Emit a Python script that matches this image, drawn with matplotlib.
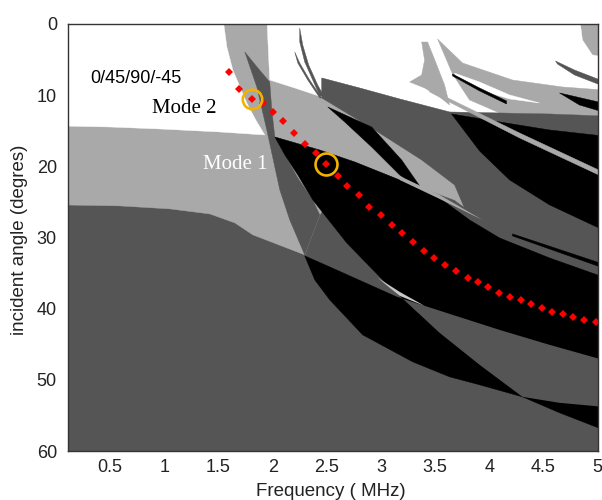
import numpy as np
import matplotlib
matplotlib.use('Agg')
import matplotlib.pyplot as plt
from matplotlib.patches import Polygon

# grey levels of the map
WHITE, LIGHT, DARK, BLACK = '#ffffff', '#a9a9a9', '#555555', '#000000'

# region outlines, (frequency MHz, incident angle deg)
light_upper = [(0.05, -1), (5.05, -1), (5.05, 40), (3.680, 24.72), (3.173, 21.91), (2.758, 19.38),
               (2.435, 26.83), (2.296, 32.44), (1.817, 29.63), (1.651, 27.95), (1.420, 26.69),
               (1.051, 25.98), (0.590, 25.56), (0.05, 25.42)]
white_left = [(0.05, -1), (1.540, -1), (1.577, 3.23), (1.632, 6.46), (1.761, 11.10), (1.844, 13.48),
              (1.927, 15.59), (1.512, 15.17), (0.959, 14.75), (0.497, 14.47), (0.05, 14.33)]
white_top = [(1.946, -1), (4.833, -1), (4.861, 2.25), (4.953, 4.35), (5.05, 4.63), (5.05, 16.29),
             (3.634, 12.36), (3.173, 10.53), (2.804, 8.99), (2.453, 7.58), (2.453, 10.25),
             (2.204, 8.99), (1.973, 7.87)]
light_arc_thin = [(3.376, 2.53), (3.431, 2.53), (3.505, 5.34), (3.588, 8.57), (3.634, 11.38),
                  (3.542, 10.25), (3.403, 8.99), (3.265, 8.15), (3.376, 7.16), (3.403, 5.06)]
light_arc_wide = [(3.523, 2.11), (3.754, 5.48), (4.215, 7.87), (4.677, 8.85), (5.05, 9.27),
                  (5.05, 12.92), (4.557, 12.64), (4.095, 12.50), (3.818, 10.67), (3.661, 7.02)]
white_sliver = [(3.680, 6.90), (3.911, 8.15), (4.188, 9.97), (4.464, 11.10), (4.188, 10.53),
                (3.911, 9.27), (3.700, 7.58)]
black_thread = [(3.661, 7.02), (3.911, 8.99), (4.160, 10.81), (4.160, 11.24), (3.911, 9.41), (3.661, 7.30)]
dark_arc_tr = [(4.612, 5.20), (4.787, 6.46), (5.05, 8.01), (5.05, 8.71), (4.787, 7.16), (4.630, 5.62)]
black_sliver_tr = [(4.649, 9.69), (5.05, 11.10), (5.05, 12.36), (4.833, 11.38)]
sliver_a = [(2.250, 0.56), (2.278, 2.95), (2.333, 5.76), (2.416, 8.57), (2.472, 10.11), (2.435, 10.11),
            (2.370, 7.87), (2.296, 5.34), (2.250, 2.53)]
sliver_b = [(2.204, 3.93), (2.250, 5.48), (2.342, 7.87), (2.453, 10.39), (2.435, 10.39), (2.324, 7.87),
            (2.232, 5.48)]
dark_right = [(2.453, 7.58), (2.804, 8.99), (3.173, 10.53), (3.634, 12.36), (4.095, 12.50),
              (4.557, 12.64), (5.05, 12.92), (5.05, 45.0), (3.911, 30.06), (3.818, 27.53),
              (3.680, 22.61), (3.376, 19.10), (2.942, 14.89), (2.453, 10.39)]
lens_sliver = [(2.509, 11.66), (2.914, 14.47), (3.191, 19.10), (3.403, 23.74), (3.173, 21.21),
               (2.914, 17.28), (2.665, 13.76)]
upper_black = [(3.652, 12.64), (4.095, 13.76), (4.557, 14.89), (5.05, 15.73), (5.05, 28.93),
               (4.557, 25.42), (4.188, 21.91), (3.911, 17.84)]
black_thread_low = [(4.215, 29.49), (5.05, 33.71), (5.05, 34.27), (4.215, 29.78)]
light_thread = [(3.450, 9.13), (4.280, 15.31), (5.05, 20.79), (5.05, 21.49), (4.280, 16.01), (3.450, 9.55)]
dark_band = [(1.743, 3.93), (1.863, 6.18), (1.973, 8.15), (1.992, 12.08), (2.020, 15.87), (2.232, 21.63),
             (2.370, 24.72), (2.435, 26.83), (2.296, 32.44), (2.158, 27.53), (2.066, 23.31),
             (1.946, 14.89), (1.854, 8.85)]
main_black = [(2.020, 15.87), (2.435, 17.70), (2.758, 19.38), (3.173, 21.91), (3.542, 24.44),
              (3.818, 27.53), (4.095, 30.06), (4.557, 32.87), (5.05, 35.53), (5.05, 57.0),
              (4.649, 54.63), (4.307, 52.39), (3.911, 47.89), (3.542, 43.40), (3.293, 39.89),
              (3.016, 35.96), (2.684, 30.76), (2.370, 24.72), (2.232, 21.21), (2.112, 18.40)]
lens_low = [(2.296, 32.58), (2.527, 34.13), (3.145, 38.34), (3.634, 40.73), (4.095, 42.98),
            (4.557, 45.08), (5.05, 47.19), (5.05, 53.79), (4.649, 53.23), (4.307, 52.39),
            (3.911, 50.70), (3.634, 49.58), (3.293, 47.47), (2.831, 43.68), (2.527, 38.76),
            (2.389, 35.96)]
light_cross = [(2.970, 35.67), (3.173, 37.64), (3.403, 39.61), (3.173, 38.20)]
light_edge = [(3.173, 21.35), (3.542, 24.02), (3.938, 27.53), (3.542, 24.58), (3.173, 21.91)]

# red dotted curve
dot_freq = [1.595, 1.687, 1.807, 1.909, 2.001, 2.093, 2.195, 2.296, 2.398, 2.490, 2.601, 2.684,
            2.794, 2.887, 2.997, 3.099, 3.191, 3.293, 3.394, 3.486, 3.588, 3.689, 3.800, 3.892,
            3.985, 4.086, 4.188, 4.289, 4.390, 4.483, 4.584, 4.686, 4.778, 4.879, 4.990]
dot_angle = [6.74, 9.13, 10.53, 11.10, 12.36, 13.62, 15.31, 16.85, 18.12, 19.66, 21.35, 22.75,
             24.02, 25.70, 26.83, 28.23, 29.35, 30.62, 31.88, 32.87, 33.85, 34.69, 35.67, 36.24,
             36.94, 37.78, 38.34, 38.76, 39.33, 39.89, 40.45, 40.73, 41.15, 41.57, 41.85]

# circled modes
mode_freq = [1.807, 2.490]
mode_angle = [10.53, 19.66]
mode_size = [14, 15.8]

xtick_vals = [0.5, 1, 1.5, 2, 2.5, 3, 3.5, 4, 4.5, 5]
xtick_labels = ['0.5', '1', '1.5', '2', '2.5', '3', '3.5', '4', '4.5', '5']
ytick_vals = [0, 10, 20, 30, 40, 50, 60]

fig = plt.figure(figsize=(6.02, 5.00), dpi=100)
ax = fig.add_axes([68 / 602, 49 / 500, 529.5 / 602, 427 / 500])
ax.set_facecolor(DARK)

layers = [
    (light_upper, LIGHT), (white_left, WHITE), (white_top, WHITE), (light_arc_thin, LIGHT),
    (light_arc_wide, LIGHT), (white_sliver, WHITE), (black_thread, BLACK), (dark_arc_tr, DARK),
    (black_sliver_tr, BLACK), (sliver_a, DARK), (sliver_b, DARK), (dark_right, DARK),
    (lens_sliver, BLACK), (upper_black, BLACK), (black_thread_low, BLACK), (light_thread, LIGHT),
    (dark_band, DARK),
]
z = 1
for pts, col in layers:
    ax.add_patch(Polygon(pts, closed=True, facecolor=col, edgecolor=col, lw=0.3, zorder=z))
    z += 1

mb = Polygon(main_black, closed=True, facecolor=BLACK, edgecolor=BLACK, lw=0.3, zorder=z)
ax.add_patch(mb)
ax.add_patch(Polygon(lens_low, closed=True, facecolor=BLACK, edgecolor=BLACK, lw=0.3, zorder=z + 1))
overlap = Polygon(lens_low, closed=True, facecolor=DARK, edgecolor='none', zorder=z + 2)
ax.add_patch(overlap)
overlap.set_clip_path(mb)
ax.add_patch(Polygon(light_cross, closed=True, facecolor='#c8c8c8', edgecolor='none', zorder=z + 3))
ax.add_patch(Polygon(light_edge, closed=True, facecolor=LIGHT, edgecolor='none', zorder=z + 3))

ax.plot(dot_freq, dot_angle, 'D', color='#ff0000', markersize=4.3, markeredgewidth=0, zorder=30)
for f, a, s in zip(mode_freq, mode_angle, mode_size):
    ax.plot(f, a, 'o', markersize=s, markerfacecolor='none', markeredgecolor='#f2b300',
            markeredgewidth=1.9, zorder=31)

ax.text(0.313, 7.65, '0/45/90/-45', family='Liberation Sans', fontsize=13, ha='left', va='center', zorder=32)
ax.text(1.185, 11.87, 'Mode 2', family='Liberation Serif', fontsize=15, ha='center', va='center', zorder=32)
ax.text(1.651, 19.8, 'Mode 1', family='Liberation Serif', fontsize=15, color='white', ha='center',
        va='center', zorder=32)

ax.set_xlim(0.11, 5.0)
ax.set_ylim(60, 0)
ax.set_xticks(xtick_vals)
ax.set_xticklabels(xtick_labels)
ax.set_yticks(ytick_vals)
ax.tick_params(direction='in', length=0, labelsize=13, colors='#222222')
ax.tick_params(axis='y', pad=8)
ax.tick_params(axis='x', pad=6)
for lab in ax.get_xticklabels() + ax.get_yticklabels():
    lab.set_family('Liberation Sans')
for sp in ax.spines.values():
    sp.set_color('#333333')
    sp.set_linewidth(1.0)
    sp.set_zorder(40)

fig.text(20 / 602, 1 - 240 / 500, 'incident angle (degres)', rotation=90, ha='center', va='center',
         family='Liberation Sans', fontsize=13.5, color='#222222')
fig.text(331 / 602, 1 - 491 / 500, 'Frequency ( MHz)', ha='center', va='center',
         family='Liberation Sans', fontsize=13.5, color='#222222')

fig.savefig('out.png', dpi=100)
